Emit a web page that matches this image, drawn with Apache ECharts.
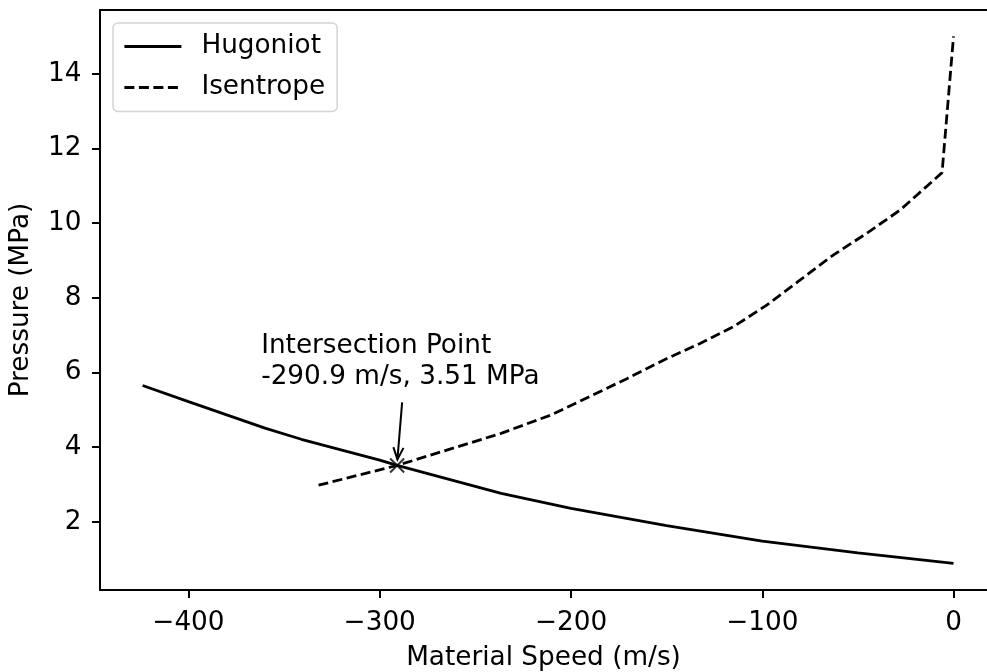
<!DOCTYPE html>
<html>
<head>
<meta charset="utf-8">
<script src="https://cdn.jsdelivr.net/npm/echarts@6/dist/echarts.min.js"></script>
<style>
  html, body { margin: 0; padding: 0; background: #fff; }
  #chart { width: 987px; height: 672px; }
</style>
</head>
<body>
<div id="chart"></div>
<script>
// Shock Hugoniot of the target material (material speed in m/s, pressure in MPa)
const hugoniotSpeed    = [-424, -400, -360, -341, -300, -290.9, -236.5, -200, -150, -100, -50, 0];
const hugoniotPressure = [5.65, 5.22, 4.51, 4.21, 3.65, 3.51, 2.76, 2.36, 1.90, 1.48, 1.17, 0.885];

// Release isentrope of the projectile
const isentropeSpeed    = [-332, -290.9, -236.5, -210.5, -170.5, -149.6, -132.3, -114.9, -97.5, -80.1, -62.7, -45.3, -27.9, -6, 0];
const isentropePressure = [2.98, 3.51, 4.37, 4.86, 5.84, 6.38, 6.78, 7.23, 7.81, 8.48, 9.15, 9.73, 10.35, 11.35, 15.0];

// Where the two curves cross
const intersection = [-290.9, 3.51];
// Anchor of the annotation text (left edge, baseline of last line)
const labelAnchor = [-362, 5.62];

const xTicks = [-400, -300, -200, -100, 0];
const yTicks = [2, 4, 6, 8, 10, 12, 14];

const FONT = 'DejaVu Sans';
const FS = 26.3;
const LW = 2.8;

const zip = (xs, ys) => xs.map((x, i) => [x, ys[i]]);
const minus = v => (v < 0 ? '\u2212' + Math.abs(v) : String(v));

const X_MIN = -446.25, X_MAX = 17.5;
const Y_MIN = 0.174, Y_MAX = 15.706;

const spine = { show: true, onZero: false, lineStyle: { color: '#000', width: 2 } };

const chart = echarts.init(document.getElementById('chart'), null, { renderer: 'canvas' });

chart.setOption({
  animation: false,
  backgroundColor: '#fff',
  grid: {
    left: 100, top: 10, bottom: 82, right: 0,
    show: false, containLabel: false, outerBoundsMode: 'none'
  },
  legend: {
    orient: 'vertical',
    left: 113, top: 23,
    itemWidth: 57, itemHeight: 14, itemGap: 15,
    padding: [10.5, 12, 11, 10],
    backgroundColor: '#fff',
    borderColor: '#d4d4d4', borderWidth: 1.5, borderRadius: 5,
    itemStyle: { color: 'rgba(0,0,0,0)', borderWidth: 0 },
    lineStyle: { width: LW },
    textStyle: { fontFamily: FONT, fontSize: FS, color: '#000', padding: [0, 0, 0, 15] },
    data: ['Hugoniot', 'Isentrope']
  },
  xAxis: [
    {
      type: 'value',
      min: X_MIN, max: X_MAX,
      name: 'Material Speed (m/s)',
      nameLocation: 'middle', nameGap: 55,
      nameTextStyle: { fontFamily: FONT, fontSize: FS, color: '#000' },
      axisLine: spine,
      axisTick: { show: true, length: 8, lineStyle: { color: '#000', width: 2 }, customValues: xTicks },
      axisLabel: { fontFamily: FONT, fontSize: FS, color: '#000', margin: 20, customValues: xTicks, formatter: minus },
      splitLine: { show: false }
    },
    {
      // top spine
      type: 'value', position: 'top',
      min: X_MIN, max: X_MAX,
      axisLine: spine,
      axisTick: { show: false }, axisLabel: { show: false }, splitLine: { show: false }
    }
  ],
  yAxis: {
    type: 'value',
    min: Y_MIN, max: Y_MAX,
    name: 'Pressure (MPa)',
    nameLocation: 'middle', nameGap: 66,
    nameTextStyle: { fontFamily: FONT, fontSize: FS, color: '#000' },
    axisLine: spine,
    axisTick: { show: true, length: 8, lineStyle: { color: '#000', width: 2 }, customValues: yTicks },
    axisLabel: { fontFamily: FONT, fontSize: FS, color: '#000', margin: 18.5, customValues: yTicks, formatter: minus },
    splitLine: { show: false }
  },
  series: [
    {
      name: 'Hugoniot', type: 'line',
      data: zip(hugoniotSpeed, hugoniotPressure),
      symbol: 'none', smooth: false,
      lineStyle: { color: '#000', width: LW, type: 'solid' },
      itemStyle: { color: '#000' },
      z: 3
    },
    {
      name: 'Isentrope', type: 'line',
      data: zip(isentropeSpeed, isentropePressure),
      symbol: 'none', smooth: false,
      lineStyle: { color: '#000', width: LW, type: [10, 4.5] },
      itemStyle: { color: '#000' },
      z: 3
    },
    {
      name: 'intersection', type: 'scatter',
      data: [intersection],
      symbol: 'path://M0,0L10,10M10,0L0,10',
      symbolSize: 14,
      itemStyle: { color: 'none', borderColor: '#000', borderWidth: 2 },
      z: 5
    },
    {
      name: 'annotation', type: 'custom',
      data: [intersection],
      z: 6,
      renderItem(params, api) {
        const p = api.coord([api.value(0), api.value(1)]);
        const t = api.coord(labelAnchor);
        const lines = [
          'Intersection Point',
          intersection[0].toFixed(1) + ' m/s, ' + intersection[1].toFixed(2) + ' MPa'
        ];
        const pitch = 31.2;
        // arrow from under the label down to the point
        const start = [p[0] + 5, p[1] - 63];
        const tip = [p[0] + 0.3, p[1] - 6];
        const dx = tip[0] - start[0], dy = tip[1] - start[1];
        const len = Math.hypot(dx, dy);
        const ux = dx / len, uy = dy / len;
        const hl = 13, ang = 0.4;
        const rot = (a) => [
          tip[0] - hl * (ux * Math.cos(a) - uy * Math.sin(a)),
          tip[1] - hl * (uy * Math.cos(a) + ux * Math.sin(a))
        ];
        const h1 = rot(ang), h2 = rot(-ang);
        // text lines centred a third of an em above their baselines
        const texts = lines.map((s, i) => ({
          type: 'text',
          style: {
            x: t[0], y: t[1] - (lines.length - 1 - i) * pitch - 0.35 * FS, text: s,
            fontFamily: FONT, fontSize: FS, fill: '#000',
            align: 'left', verticalAlign: 'middle'
          }
        }));
        return {
          type: 'group',
          children: texts.concat([
            {
              type: 'line',
              shape: { x1: start[0], y1: start[1], x2: tip[0], y2: tip[1] },
              style: { stroke: '#000', lineWidth: 2 }
            },
            {
              type: 'polyline',
              shape: { points: [h1, tip, h2] },
              style: { stroke: '#000', lineWidth: 2, fill: null }
            }
          ])
        };
      }
    }
  ]
});
</script>
</body>
</html>
